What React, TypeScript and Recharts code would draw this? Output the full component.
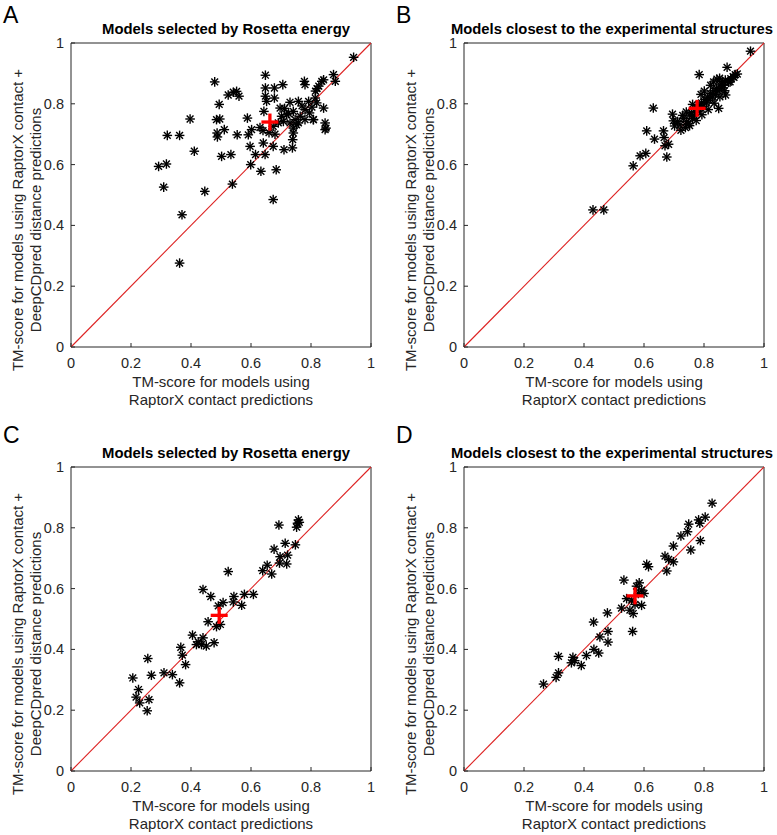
import React from 'react';
import { ScatterChart, Scatter, XAxis, YAxis, Label } from 'recharts';

const tickValues = [0, 0.2, 0.4, 0.6, 0.8, 1];
const titleEnergy = 'Models selected by Rosetta energy';
const titleClosest = 'Models closest to the experimental structures';
const xLabelLines = ['TM-score for models using', 'RaptorX contact predictions'];
const yLabelLines = ['TM-score for models using RaptorX contact +', 'DeepCDpred distance predictions'];
const diagonal = [
  { x: 0, y: 0 },
  { x: 1, y: 1 },
];

// Panel A: models selected by Rosetta energy (full set)
const aX = [0.942, 0.648, 0.479, 0.524, 0.541, 0.552, 0.560, 0.494, 0.397, 0.485, 0.496, 0.321, 0.362, 0.487, 0.488, 0.511, 0.554, 0.411, 0.502, 0.533, 0.292, 0.318, 0.309, 0.446, 0.538, 0.370, 0.362, 0.674, 0.633, 0.684, 0.599, 0.597, 0.615, 0.641, 0.647, 0.588, 0.591, 0.602, 0.643, 0.648, 0.648, 0.652, 0.678, 0.678, 0.706, 0.674, 0.710, 0.738, 0.739, 0.741, 0.778, 0.780, 0.820, 0.815, 0.826, 0.836, 0.842, 0.875, 0.881, 0.842, 0.808, 0.847, 0.850, 0.847, 0.697, 0.730, 0.758, 0.792, 0.803, 0.780, 0.808, 0.747, 0.730, 0.708, 0.691, 0.674, 0.741, 0.758, 0.764, 0.741, 0.719, 0.702, 0.780, 0.819, 0.814, 0.630, 0.640, 0.660, 0.680, 0.725, 0.770, 0.795, 0.752, 0.712];
const aY = [0.953, 0.894, 0.872, 0.829, 0.838, 0.841, 0.825, 0.798, 0.750, 0.748, 0.750, 0.696, 0.696, 0.704, 0.691, 0.715, 0.698, 0.644, 0.627, 0.633, 0.594, 0.602, 0.526, 0.512, 0.536, 0.435, 0.276, 0.485, 0.578, 0.583, 0.600, 0.660, 0.633, 0.671, 0.633, 0.753, 0.698, 0.715, 0.775, 0.852, 0.825, 0.808, 0.852, 0.819, 0.863, 0.660, 0.649, 0.655, 0.682, 0.704, 0.874, 0.863, 0.850, 0.842, 0.858, 0.874, 0.879, 0.896, 0.874, 0.786, 0.748, 0.737, 0.720, 0.715, 0.786, 0.805, 0.808, 0.808, 0.789, 0.748, 0.748, 0.748, 0.737, 0.742, 0.737, 0.726, 0.720, 0.737, 0.759, 0.775, 0.764, 0.759, 0.781, 0.803, 0.819, 0.722, 0.712, 0.705, 0.700, 0.768, 0.793, 0.770, 0.731, 0.785];
const aMean = [0.663, 0.740];

// Panel B: models closest to the experimental structures (full set)
const bX = [0.955, 0.877, 0.784, 0.631, 0.609, 0.635, 0.587, 0.606, 0.564, 0.665, 0.667, 0.670, 0.682, 0.676, 0.695, 0.698, 0.702, 0.430, 0.466, 0.849, 0.872, 0.911, 0.900, 0.720, 0.731, 0.742, 0.738, 0.751, 0.748, 0.762, 0.758, 0.771, 0.768, 0.783, 0.779, 0.792, 0.788, 0.803, 0.797, 0.812, 0.808, 0.821, 0.817, 0.833, 0.829, 0.842, 0.838, 0.853, 0.847, 0.862, 0.858, 0.871, 0.866, 0.882, 0.889, 0.897, 0.904, 0.832, 0.843, 0.852, 0.822, 0.801, 0.790, 0.762, 0.741, 0.729, 0.712, 0.723, 0.752, 0.774, 0.793, 0.814, 0.834, 0.853, 0.869, 0.887];
const bY = [0.973, 0.920, 0.896, 0.786, 0.711, 0.684, 0.629, 0.637, 0.596, 0.711, 0.689, 0.662, 0.667, 0.625, 0.766, 0.744, 0.727, 0.451, 0.451, 0.785, 0.829, 0.898, 0.887, 0.731, 0.752, 0.741, 0.722, 0.763, 0.734, 0.752, 0.771, 0.783, 0.762, 0.794, 0.775, 0.803, 0.786, 0.814, 0.792, 0.822, 0.803, 0.834, 0.812, 0.843, 0.822, 0.851, 0.831, 0.862, 0.842, 0.873, 0.852, 0.878, 0.861, 0.871, 0.883, 0.889, 0.896, 0.872, 0.881, 0.884, 0.861, 0.842, 0.831, 0.798, 0.773, 0.762, 0.742, 0.713, 0.728, 0.745, 0.764, 0.781, 0.802, 0.823, 0.843, 0.872];
const bMean = [0.777, 0.785];

// Panel C: models selected by Rosetta energy (subset)
const cX = [0.758, 0.761, 0.752, 0.755, 0.693, 0.714, 0.748, 0.677, 0.697, 0.722, 0.719, 0.695, 0.639, 0.654, 0.669, 0.524, 0.440, 0.466, 0.491, 0.507, 0.543, 0.541, 0.569, 0.578, 0.608, 0.457, 0.485, 0.498, 0.405, 0.440, 0.424, 0.435, 0.451, 0.477, 0.418, 0.366, 0.371, 0.382, 0.362, 0.256, 0.310, 0.338, 0.268, 0.206, 0.225, 0.217, 0.229, 0.260, 0.254];
const cY = [0.826, 0.818, 0.802, 0.815, 0.809, 0.749, 0.744, 0.730, 0.705, 0.710, 0.681, 0.684, 0.659, 0.677, 0.648, 0.656, 0.597, 0.574, 0.543, 0.554, 0.574, 0.556, 0.545, 0.581, 0.581, 0.491, 0.475, 0.482, 0.447, 0.438, 0.425, 0.416, 0.411, 0.422, 0.416, 0.407, 0.381, 0.350, 0.290, 0.370, 0.323, 0.317, 0.315, 0.306, 0.268, 0.243, 0.224, 0.235, 0.198];
const cMean = [0.494, 0.512];

// Panel D: models closest to the experimental structures (subset)
const dX = [0.827, 0.804, 0.782, 0.786, 0.749, 0.745, 0.723, 0.788, 0.756, 0.698, 0.670, 0.682, 0.698, 0.676, 0.609, 0.615, 0.533, 0.584, 0.575, 0.592, 0.600, 0.542, 0.525, 0.553, 0.564, 0.570, 0.592, 0.559, 0.581, 0.562, 0.478, 0.432, 0.480, 0.480, 0.453, 0.433, 0.449, 0.408, 0.391, 0.363, 0.358, 0.369, 0.315, 0.315, 0.307, 0.265];
const dY = [0.881, 0.835, 0.826, 0.815, 0.812, 0.787, 0.773, 0.758, 0.727, 0.740, 0.707, 0.696, 0.688, 0.658, 0.680, 0.672, 0.628, 0.619, 0.608, 0.595, 0.584, 0.567, 0.536, 0.529, 0.518, 0.548, 0.545, 0.562, 0.584, 0.459, 0.520, 0.490, 0.459, 0.424, 0.441, 0.400, 0.388, 0.380, 0.347, 0.374, 0.356, 0.363, 0.377, 0.323, 0.308, 0.286];
const dMean = [0.570, 0.576];

type Pt = { x: number; y: number };
const zip = (xs: number[], ys: number[]): Pt[] => xs.map((x, i) => ({ x, y: ys[i] }));

const FONT = '"Liberation Sans", Arial, Helvetica, sans-serif';
const AXIS = '#262626';
const DIAG = '#dd2222';
const PLOT_W = 300;
const PLOT_H = 304;

const Asterisk = (props: any) => {
  const { cx, cy } = props;
  if (cx == null || cy == null) return null;
  const r = 4.8;
  const d = 3.4;
  return (
    <g stroke="#000" strokeWidth={1.4} strokeLinecap="butt">
      <line x1={cx - r} y1={cy} x2={cx + r} y2={cy} />
      <line x1={cx} y1={cy - r} x2={cx} y2={cy + r} />
      <line x1={cx - d} y1={cy - d} x2={cx + d} y2={cy + d} />
      <line x1={cx - d} y1={cy + d} x2={cx + d} y2={cy - d} />
    </g>
  );
};

const RedPlus = (props: any) => {
  const { cx, cy } = props;
  if (cx == null || cy == null) return null;
  const r = 8.5;
  return (
    <g stroke="#ff0000" strokeWidth={3.3}>
      <line x1={cx - r} y1={cy} x2={cx + r} y2={cy} />
      <line x1={cx} y1={cy - r} x2={cx} y2={cy + r} />
    </g>
  );
};

const NoShape = () => null;

const BottomTick = (props: any) => {
  const { x, y, payload } = props;
  return (
    <g>
      <line x1={x} y1={y} x2={x} y2={y - 4} stroke={AXIS} strokeWidth={1} />
      <text x={x} y={y + 21} textAnchor="middle" fontSize={14.5} fill={AXIS} fontFamily={FONT}>
        {String(payload.value)}
      </text>
    </g>
  );
};

const LeftTick = (props: any) => {
  const { x, y, payload } = props;
  return (
    <g>
      <line x1={x} y1={y} x2={x + 4} y2={y} stroke={AXIS} strokeWidth={1} />
      <text x={x - 7} y={y + 5} textAnchor="end" fontSize={14.5} fill={AXIS} fontFamily={FONT}>
        {String(payload.value)}
      </text>
    </g>
  );
};

const TopTick = (props: any) => {
  const { x, y } = props;
  return <line x1={x} y1={y} x2={x} y2={y + 4} stroke={AXIS} strokeWidth={1} />;
};

const RightTick = (props: any) => {
  const { x, y } = props;
  return <line x1={x} y1={y} x2={x - 4} y2={y} stroke={AXIS} strokeWidth={1} />;
};

type PanelProps = {
  left: number;
  top: number;
  width: number;
  height: number;
  plotLeft: number;
  plotTop: number;
  letter: string;
  letterX: number;
  letterY: number;
  title: string;
  titleX: number;
  titleWidth: number;
  points: Pt[];
  mean: Pt[];
};

function Panel(p: PanelProps) {
  // axes take 1px each, so margins are reduced by 1
  const margin = {
    top: p.plotTop - 1,
    left: p.plotLeft - 1,
    right: p.width - p.plotLeft - PLOT_W - 1,
    bottom: p.height - p.plotTop - PLOT_H - 1,
  };
  const cx = p.plotLeft + PLOT_W / 2;
  const cy = p.plotTop + PLOT_H / 2 + 25;
  const bottomY = p.plotTop + PLOT_H;

  const titleContent = () => (
    <g>
      <text x={p.letterX} y={p.letterY} fontSize={23} fill="#000" fontFamily={FONT}>
        {p.letter}
      </text>
      <text
        x={p.titleX}
        y={p.plotTop - 9}
        textAnchor="middle"
        fontSize={15}
        fontWeight="bold"
        fill="#000"
        fontFamily={FONT}
        textLength={p.titleWidth}
        lengthAdjust="spacingAndGlyphs"
      >
        {p.title}
      </text>
    </g>
  );

  const xLabelContent = () => (
    <g>
      {xLabelLines.map((t, i) => (
        <text key={i} x={cx} y={bottomY + 40 + i * 18} textAnchor="middle" fontSize={15} fill={AXIS} fontFamily={FONT}>
          {t}
        </text>
      ))}
    </g>
  );

  const yLabelContent = () => (
    <g>
      {yLabelLines.map((t, i) => {
        const lx = p.plotLeft - 48 + i * 18;
        return (
          <text
            key={i}
            x={lx}
            y={cy}
            transform={`rotate(-90 ${lx} ${cy})`}
            textAnchor="middle"
            fontSize={15}
            fill={AXIS}
            fontFamily={FONT}
          >
            {t}
          </text>
        );
      })}
    </g>
  );

  return (
    <div style={{ position: 'absolute', left: p.left, top: p.top, width: p.width, height: p.height }}>
      <ScatterChart width={p.width} height={p.height} margin={margin}>
        <XAxis
          dataKey="x"
          type="number"
          domain={[0, 1]}
          ticks={tickValues}
          interval={0}
          height={1}
          tickSize={0}
          tickMargin={0}
          tickLine={false}
          axisLine={{ stroke: AXIS }}
          tick={BottomTick}
        >
          <Label content={xLabelContent} />
        </XAxis>
        <XAxis
          xAxisId="top"
          orientation="top"
          type="number"
          domain={[0, 1]}
          ticks={tickValues}
          interval={0}
          height={1}
          tickSize={0}
          tickMargin={0}
          tickLine={false}
          axisLine={{ stroke: AXIS }}
          tick={TopTick}
        >
          <Label content={titleContent} />
        </XAxis>
        <YAxis
          dataKey="y"
          type="number"
          domain={[0, 1]}
          ticks={tickValues}
          interval={0}
          width={1}
          tickSize={0}
          tickMargin={0}
          tickLine={false}
          axisLine={{ stroke: AXIS }}
          tick={LeftTick}
        >
          <Label content={yLabelContent} />
        </YAxis>
        <YAxis
          yAxisId="right"
          orientation="right"
          type="number"
          domain={[0, 1]}
          ticks={tickValues}
          interval={0}
          width={1}
          tickSize={0}
          tickMargin={0}
          tickLine={false}
          axisLine={{ stroke: AXIS }}
          tick={RightTick}
        />
        <Scatter
          data={diagonal}
          shape={NoShape}
          line={{ stroke: DIAG, strokeWidth: 1.1 }}
          isAnimationActive={false}
        />
        <Scatter data={p.points} shape={Asterisk} isAnimationActive={false} />
        <Scatter data={p.mean} shape={RedPlus} isAnimationActive={false} />
      </ScatterChart>
    </div>
  );
}

export default function App() {
  return (
    <div
      style={{
        position: 'absolute',
        left: 0,
        top: 0,
        width: 777,
        height: 835,
        background: '#fff',
        fontFamily: FONT,
      }}
    >
      <Panel left={0} top={0} width={388} height={417} plotLeft={71} plotTop={43} letter="A" letterX={3} letterY={23}
        title={titleEnergy} titleX={226} titleWidth={248} points={zip(aX, aY)} mean={[{ x: aMean[0], y: aMean[1] }]} />
      <Panel left={388} top={0} width={389} height={417} plotLeft={76} plotTop={43} letter="B" letterX={8} letterY={23}
        title={titleClosest} titleX={224} titleWidth={322} points={zip(bX, bY)} mean={[{ x: bMean[0], y: bMean[1] }]} />
      <Panel left={0} top={417} width={388} height={418} plotLeft={71} plotTop={50} letter="C" letterX={3} letterY={26}
        title={titleEnergy} titleX={226} titleWidth={248} points={zip(cX, cY)} mean={[{ x: cMean[0], y: cMean[1] }]} />
      <Panel left={388} top={417} width={389} height={418} plotLeft={76} plotTop={50} letter="D" letterX={8} letterY={26}
        title={titleClosest} titleX={224} titleWidth={322} points={zip(dX, dY)} mean={[{ x: dMean[0], y: dMean[1] }]} />
    </div>
  );
}
